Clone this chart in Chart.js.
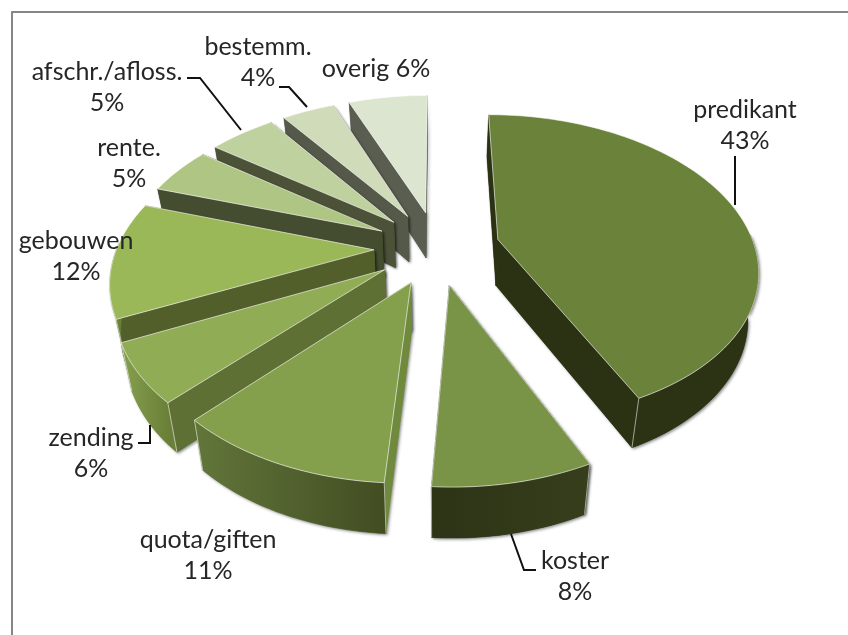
<!DOCTYPE html>
<html>
<head>
<meta charset="utf-8">
<style>
  html, body { margin: 0; padding: 0; background: #fff; }
  #wrap { position: relative; width: 848px; height: 635px; overflow: hidden; }
</style>
<script src="https://cdn.jsdelivr.net/npm/chart.js@4"></script>
</head>
<body>
<div id="wrap"><canvas id="myChart" width="848" height="635"></canvas></div>
<script>
// DATA ----------------------------------------
const categories = ['predikant', 'koster', 'quota/giften', 'zending', 'gebouwen', 'rente.', 'afschr./afloss.', 'bestemm.', 'overig'];
const shares = [43, 8, 11, 6, 12, 5, 5, 4, 6];

// top face, rim left/right, radial wall
const topColors = ['#6b823b', '#7a9447', '#85a04c', '#90ac55', '#9bb858', '#afc583', '#c0d1a0', '#d0dcb9', '#dce5d0'];
const rimLeft = ['#2c3315', '#2d3416', '#62763a', '#86a04e', '#7e9a48', '#8a9a6a', '#8c9a74', '#8a9478', '#8a9080'];
const rimRight = ['#2c3315', '#363e1c', '#424d22', '#6a8038', '#6a8038', '#7a8a5a', '#7c8a64', '#7a8468', '#7a8070'];
const wallColors = ['#2b3214', '#2f3618', '#6f8a3c', '#5f7035', '#525f2a', '#454d30', '#4c5238', '#55594a', '#5a5e50'];

// painted from the back to the front
const paintOrder = [8, 7, 6, 5, 4, 3, 2, 1, 0];

// text position of each label: x, y of first line
const labelPos = [[745, 110], [575, 561], [208, 540], [91, 438], [76, 241], [129, 148], [107, 72], [258, 47], [376, 69]];
const leaders = [
    [[735, 156], [735, 205]],
    [[511, 534], [524, 570], [536, 570]],
    [[150, 425], [150, 443], [138, 443]],
    [[187, 78], [200, 78], [241, 130]],
    [[279, 87], [289, 87], [307, 107]]
];

// PERSPECTIVE ----------------------------------------
const centerX = 437, centerY = 247.5;
const scaleX = 257, scaleY = 150, tilt = 0.18;
const explode = 0.245;

// ground plane (u right, v towards viewer) to screen
function project(u, v) {
    const w = 1 - tilt * v;
    return {x: centerX + scaleX * u / w, y: centerY + scaleY * v / w, v: v};
}
// same point on the bottom of the slice
function lower(p) {
    return {x: p.x + (centerX - p.x) * 0.034, y: p.y + 46 + 4 * p.v, v: p.v};
}

function sliceShape(arc) {
    const a0 = arc.startAngle + Math.PI / 2;
    const a1 = arc.endAngle + Math.PI / 2;
    const mid = (a0 + a1) / 2;
    const ou = Math.sin(mid) * explode, ov = -Math.cos(mid) * explode;
    const rim = [];
    const steps = Math.max(6, Math.ceil((a1 - a0) * 40));
    for (let s = 0; s <= steps; s++) {
        const a = a0 + (a1 - a0) * s / steps;
        const p = project(ou + Math.sin(a), ov - Math.cos(a));
        p.face = -Math.cos(a);
        rim.push(p);
    }
    return {apex: project(ou, ov), rim: rim};
}

function poly(ctx, pts) {
    ctx.beginPath();
    pts.forEach((p, i) => i ? ctx.lineTo(p.x, p.y) : ctx.moveTo(p.x, p.y));
    ctx.closePath();
}

const pie3d = {
    id: 'pie3d',
    // the arcs are laid out by the library and painted here with the tilt
    beforeDatasetDraw(chart, args) {
        const ctx = chart.ctx;
        const arcs = chart.getDatasetMeta(args.index).data;
        paintOrder.forEach(i => {
            const shape = sliceShape(arcs[i]);
            const top = [shape.apex].concat(shape.rim);
            const first = shape.rim[0], last = shape.rim[shape.rim.length - 1];
            // only the part of the outer wall that faces the viewer
            const front = shape.rim.filter(p => p.face > -0.05);
            const frontLow = front.map(lower);

            const block = [
                [shape.apex, first, lower(first), lower(shape.apex)],
                [shape.apex, last, lower(last), lower(shape.apex)]
            ];
            if (front.length > 1) block.push(front.concat(frontLow.slice().reverse()));

            // soft shadow of the whole block
            ctx.save();
            ctx.shadowColor = 'rgba(0,0,0,0.45)';
            ctx.shadowBlur = 3;
            ctx.shadowOffsetX = 1.5;
            ctx.shadowOffsetY = 1.5;
            ctx.fillStyle = wallColors[i];
            block.forEach(q => { poly(ctx, q); ctx.fill(); });
            ctx.restore();

            ctx.lineJoin = 'round';
            // radial walls
            ctx.fillStyle = wallColors[i];
            ctx.strokeStyle = wallColors[i];
            ctx.lineWidth = 0.5;
            poly(ctx, block[0]); ctx.fill(); ctx.stroke();
            poly(ctx, block[1]); ctx.fill(); ctx.stroke();

            // outer wall
            if (front.length > 1) {
                let minX = Infinity, maxX = -Infinity;
                front.forEach(p => { minX = Math.min(minX, p.x); maxX = Math.max(maxX, p.x); });
                const grad = ctx.createLinearGradient(minX, 0, maxX, 0);
                grad.addColorStop(0, rimLeft[i]);
                grad.addColorStop(1, rimRight[i]);
                ctx.fillStyle = grad;
                ctx.strokeStyle = grad;
                poly(ctx, block[2]); ctx.fill(); ctx.stroke();
            }

            // light corner edges on the walls that face the viewer
            ctx.strokeStyle = 'rgba(255,255,255,0.55)';
            ctx.lineWidth = 1;
            [first, last].forEach(p => {
                if (p.face > 0) {
                    const q = lower(p);
                    ctx.beginPath();
                    ctx.moveTo(p.x, p.y);
                    ctx.lineTo(q.x, q.y);
                    ctx.stroke();
                }
            });

            // top face
            ctx.fillStyle = topColors[i];
            poly(ctx, top);
            ctx.fill();
            ctx.strokeStyle = 'rgba(255,255,255,0.6)';
            ctx.lineWidth = 1;
            ctx.stroke();
        });
        return false;
    },
    afterDraw(chart) {
        const ctx = chart.ctx;
        // frame
        ctx.strokeStyle = '#868686';
        ctx.lineWidth = 2;
        ctx.beginPath();
        ctx.moveTo(12, 635);
        ctx.lineTo(12, 12);
        ctx.lineTo(848, 12);
        ctx.stroke();

        // leader lines
        ctx.strokeStyle = '#111';
        ctx.lineWidth = 2;
        ctx.lineJoin = 'miter';
        leaders.forEach(line => {
            ctx.beginPath();
            line.forEach((p, i) => i ? ctx.lineTo(p[0], p[1]) : ctx.moveTo(p[0], p[1]));
            ctx.stroke();
        });

        // labels
        ctx.fillStyle = '#262626';
        ctx.font = '25px Lato, Carlito, sans-serif';
        ctx.textAlign = 'center';
        ctx.textBaseline = 'middle';
        categories.forEach((name, i) => {
            const x = labelPos[i][0], y = labelPos[i][1];
            if (name === 'overig') {
                ctx.fillText(name + ' ' + shares[i] + '%', x, y);
            } else {
                ctx.fillText(name, x, y);
                ctx.fillText(shares[i] + '%', x, y + 31);
            }
        });
    }
};

// GRAPH ----------------------------------------
const chart = new Chart(document.getElementById('myChart'), {
    type: 'pie',
    data: {
        labels: categories,
        datasets: [{data: shares, backgroundColor: topColors, borderWidth: 0}]
    },
    options: {
        responsive: false,
        animation: false,
        plugins: {legend: {display: false}, tooltip: {enabled: false}}
    },
    plugins: [pie3d]
});
</script>
</body>
</html>
